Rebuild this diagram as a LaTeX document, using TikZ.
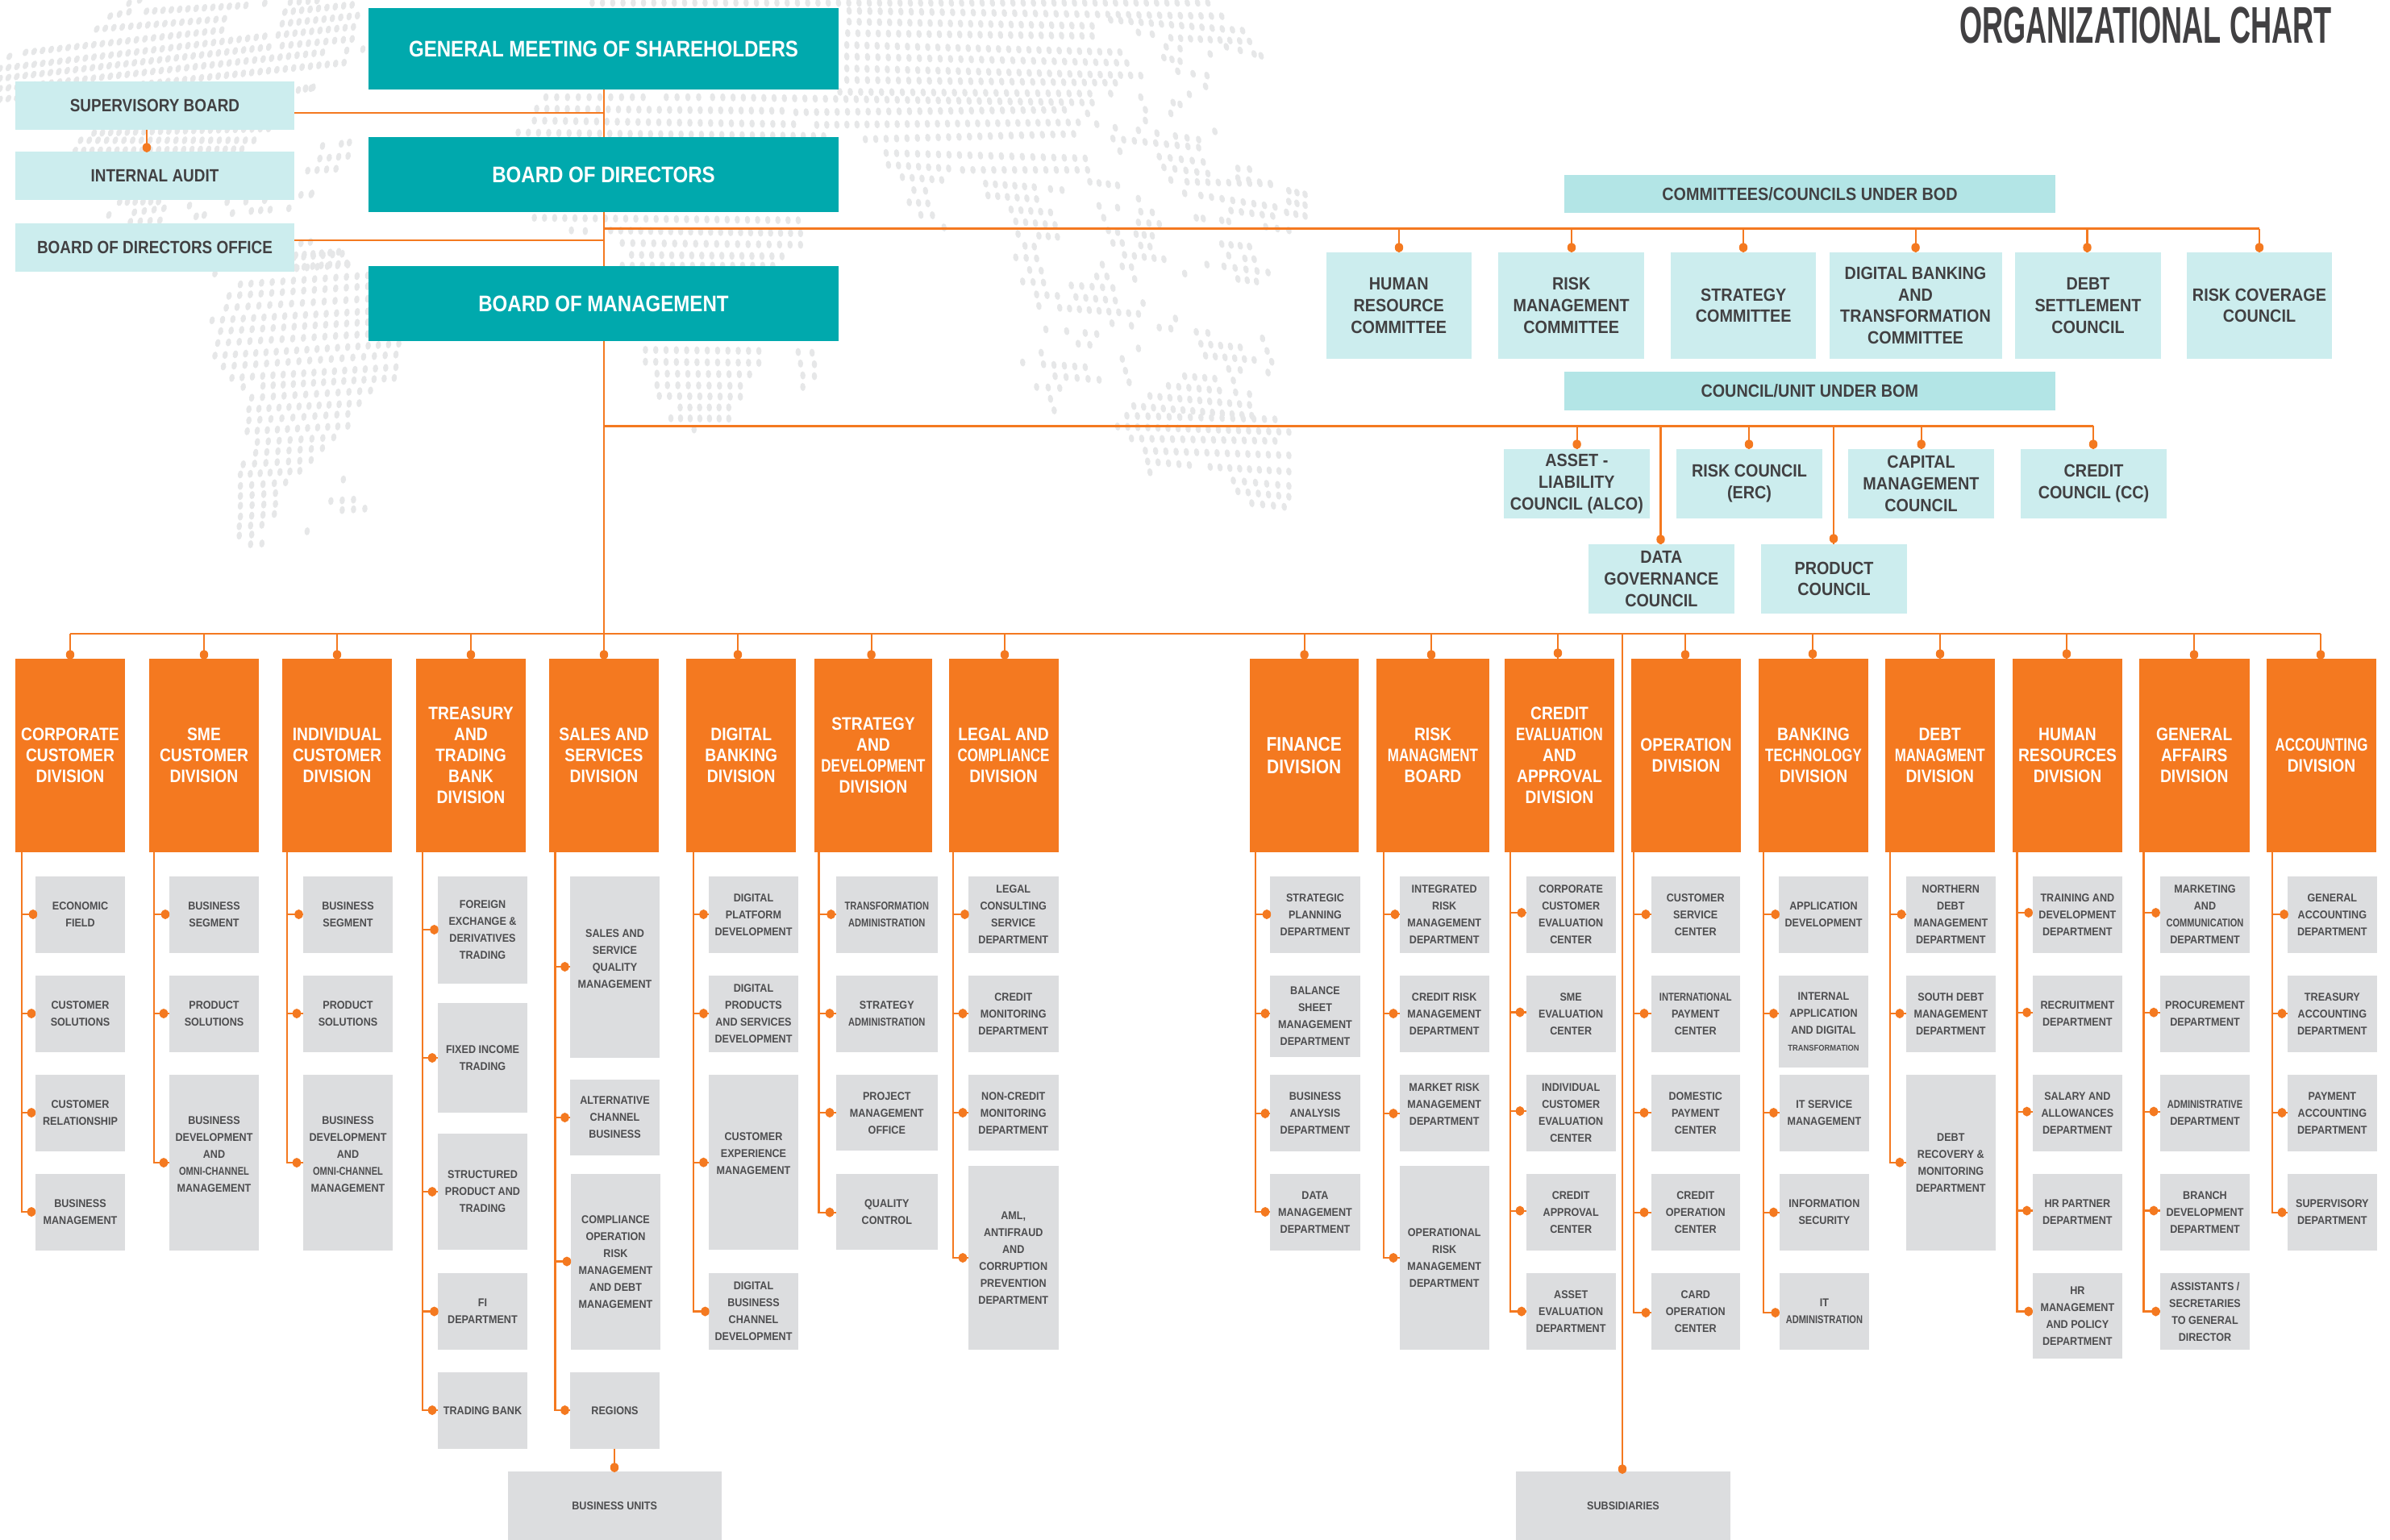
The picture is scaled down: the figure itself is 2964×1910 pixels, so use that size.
\documentclass[tikz,border=0pt]{standalone}
\usepackage{fontspec}
\usepackage{graphicx}
\newfontfamily\rb[FakeStretch=0.9]{Liberation Sans}
\newfontfamily\rc[FakeStretch=0.86]{Liberation Sans}
\newfontfamily\rbt[FakeStretch=0.565]{Liberation Sans}
\definecolor{orng}{HTML}{F47920}
\definecolor{teal1}{HTML}{00A9AD}
\definecolor{ltblue}{HTML}{CCEDEE}
\definecolor{hdrblue}{HTML}{B3E5E6}
\definecolor{kidgray}{HTML}{DCDDDF}
\definecolor{ink}{HTML}{414042}
\definecolor{kidink}{HTML}{4D4D4F}
\definecolor{mapgray}{HTML}{E6E7E8}
\tikzset{
 anybox/.style={inner sep=0pt,outer sep=0pt,align=center,draw=none},
 headbox/.style={anybox,fill=teal1,text=white,font=\fontsize{14}{17}\selectfont\rc\bfseries},
 sidebox/.style={anybox,fill=ltblue,text=ink,font=\fontsize{11}{13.4}\selectfont\rb\bfseries},
 leftbox/.style={anybox,fill=ltblue,text=ink,font=\fontsize{11}{13.4}\selectfont\rc\bfseries},
 hdrbox/.style={anybox,fill=hdrblue,text=ink,font=\fontsize{11}{13.4}\selectfont\rb\bfseries},
 divbox/.style={anybox,fill=orng,text=white,font=\fontsize{11.2}{13}\selectfont\rc\bfseries},
 bigdiv/.style={anybox,fill=orng,text=white,font=\fontsize{12.2}{14}\selectfont\rc\bfseries},
 kid/.style={anybox,fill=kidgray,text=kidink,font=\fontsize{7}{10.5}\selectfont\rb\bfseries},
 wire/.style={draw=orng,line width=1.1pt},
 bus/.style={draw=orng,line width=1.25pt},
 pin/.style={fill=orng},
 mapdot/.style={fill=mapgray},
}
\newcommand{\bx}[7]{\node[#1,minimum width={(#5-#3)*0.5pt},minimum height={(#6-#4)*0.5pt}] (#2) at ({(#3+#5)/2},{(#4+#6)/2}) {#7};}
\newcommand{\kidb}[6]{\bx{kid}{#1}{#2}{#4}{#3}{#5}{#6}}
\newcommand{\nr}[1]{\scalebox{0.88}[1]{#1}}
\newcommand{\pinat}[1]{\fill[pin] (#1) ellipse [x radius=2.6pt,y radius=3pt];}
% parent, stem x, child, dot x, dot y
\newcommand{\br}[5]{\coordinate (sx) at (#2,0);\coordinate (dt) at (#4,#5);
 \draw[wire] (#1.south -| sx) |- (#3.west |- dt);\pinat{dt}}
% bus coordinate, node, dot x, dot y
\newcommand{\drp}[4]{\coordinate (dt) at (#3,#4);
 \draw[wire] (dt |- #1) -- (#2.north -| dt);\pinat{dt}}
% fx fy ox gap list
\newcommand{\runs}[5]{\foreach \a/\b/\c/\d in {#5}{%
 \pgfmathsetmacro\xa{#3+\a/#1}\pgfmathsetmacro\xb{#3+\c/#1}%
 \pgfmathsetmacro\ya{\b/#2}\pgfmathsetmacro\yb{\d/#2}%
 \pgfmathtruncatemacro\n{round(abs(\xb-\xa)/#4)}%
 \pgfmathsetmacro\dn{max(\n,1)}%
 \foreach \i in {0,...,\n}{%
  \pgfmathsetmacro\fr{\i/\dn}%
  \pgfmathsetmacro\px{\xa+(\xb-\xa)*\fr}%
  \pgfmathsetmacro\py{\ya+(\yb-\ya)*\fr}%
  \pgfmathsetmacro\rt{(\px<750 ? (\px-750)/25 : (\px-750)/40)*(1-\py/1100)}%
  \fill[mapdot] (\px,\py) ellipse [x radius=1.65pt,y radius=2.5pt,rotate=\rt];
 }}}
\begin{document}
\begin{tikzpicture}[x=0.5pt,y=-0.5pt]
\useasboundingbox (0,0) rectangle (2964,1910);
\fill[white] (0,0) rectangle (2964,1910);
% world map, dotted
\runs{3}{3}{0}{10.5}{545/42/915/20,410/60/480/44,480/12/520/0,985/12/995/10,1080/8/1180/2,360/108/835/70,95/195/825/112,35/210/50/205,0/255/985/135,0/292/1000/175,0/330/1200/195,0/370/1280/233,1060/45/1310/18,1050/88/1330/58,1035/130/1315/100,1050/170/1310/145,1290/188/1290/188,1350/183/1350/183,1110/335/1165/325,350/495/1000/478,300/522/945/522,280/560/900/555,445/752/590/750,705/765/705/765,845/752/845/752,915/750/915/750,985/745/985/745,1120/725/1160/720,500/790/610/775,405/800/405/800,730/805/760/800,865/793/865/793,935/785/1005/780,1075/775/1075/775,485/825/595/820,1145/635/1250/628,1190/590/1295/580,1200/543/1200/543,1270/535/1300/530,1120/905/1155/900,1100/950/1260/937,1100/995/1290/980}
\runs{1.4255}{2.24}{0}{13}{380/760/380/760,425/790/650/765,405/822/650/795,400/855/650/830,375/890/650/865,390/920/650/895,385/953/650/928,380/988/705/955,395/1018/700/985,410/1050/700/1020,430/1075/430/1075,465/1072/697/1050,445/1105/655/1085,440/1137/635/1120,440/1168/615/1150,437/1198/615/1183,455/1228/590/1215,452/1258/570/1245,430/1290/550/1278,425/1318/530/1308,425/1350/505/1340,425/1378/487/1370,425/1405/487/1400,425/1435/485/1428,423/1462/463/1458,423/1488/445/1485,443/1512/463/1510,607/1332/607/1332,585/1392/625/1388,605/1417/645/1413,543/1476/543/1476,520/715/605/705,525/745/615/735,540/245/550/245,550/540/550/540}
\runs{1.742}{2.24}{700}{12.7}{60/8/1390/8,615/30/1420/45,615/60/1140/72,1180/55/1465/85,612/92/1140/100,1310/105/1480/115,1240/90/1240/90,1270/95/1270/95,610/125/1200/145,1300/130/1330/135,1395/150/1395/150,1430/130/1430/130,1460/140/1460/140,1490/150/1505/155,610/157/1215/175,1295/160/1330/170,610/190/1245/210,1325/198/1358/205,1388/210/1388/210,610/222/1190/230,1385/240/1385/240,595/255/1135/260,1180/260/1180/260,1245/270/1245/270,1350/262/1350/262,-40/270/170/270,220/270/290/270,320/270/1140/285,1315/285/1330/290,1255/305/1255/305,-60/302/470/308,500/312/1080/305,1310/315/1310/315,1130/315/1130/315,-65/335/495/345,545/347/1110/340,1150/345/1150/345,1255/335/1255/335,-100/368/560/378,650/387/1100/372,1190/355/1190/355,1240/362/1240/362,1280/370/1280/370,1320/378/1370/388,1405/365/1405/365,695/425/1125/440,700/458/830/468,860/472/1130/472,730/492/815/500,910/510/1015/520,1050/525/1075/528,1135/505/1195/515,755/528/780/530,915/543/1020/553,745/562/785/565,965/582/1050/590,770/597/795/598,820/632/820/632,1185/385/1370/410,1285/435/1380/450,1295/465/1390/482,1200/420/1200/420,1310/500/1310/500,1345/505/1525/510,1455/468/1480/470,1455/495/1525/512,1375/543/1535/575,1340/537/1340/537,1240/552/1240/552,1155/572/1155/572,1195/577/1195/577,1245/588/1270/590,1165/605/1165/605,1240/618/1285/622,1365/605/1380/607,1420/612/1435/615,1440/585/1530/600,1515/630/1565/640,975/615/1060/625,980/650/980/650,1025/655/1065/658,1175/640/1195/645,1235/650/1270/655,995/683/1015/685,1185/675/1205/675,1245/682/1265/685,1210/708/1295/720,975/715/1020/718,1420/678/1480/685,1435/710/1435/710,1470/718/1490/720,1005/750/1030/752,1425/740/1520/757,1455/775/1495/782,1162/735/1162/735,1205/740/1225/742,1388/735/1388/735,1340/760/1340/760,990/782/1035/785,1150/768/1172/768,1232/775/1232/775,1095/793/1185/800,1020/818/1065/822,1105/825/1190/835,1025/850/1025/850,1070/855/1240/872,1250/842/1250/842,1320/885/1320/885,1183/898/1183/898,1225/905/1225/905,1285/910/1310/913,1040/915/1040/915,1085/920/1085/920,1125/925/1150/928,1365/922/1390/925,1110/955/1135/958,1375/955/1460/965,1508/940/1508/940,1240/968/1240/968,1030/980/1030/980,1518/975/1518/975,1385/988/1490/1000,1205/997/1205/997,990/1007/990/1007,1035/1012/1125/1020,1528/1005/1528/1005,1212/1030/1212/1030,1435/1025/1460/1028,1520/1035/1520/1035,1060/1045/1155/1055,1340/1045/1405/1052,1445/1057/1445/1057,1220/1062/1220/1062,1020/1075/1070/1078,1305/1072/1415/1085,1450/1090/1480/1095,1050/1108/1050/1108,1265/1100/1480/1125,1058/1140/1058/1140,1230/1128/1485/1155,1215/1155/1535/1165,1195/1185/1565/1200,1225/1218/1535/1225,1255/1252/1565/1265,1260/1282/1350/1292,1395/1297/1565/1310,1265/1312/1265/1312,1445/1335/1565/1350,1455/1365/1565/1380,1485/1398/1555/1408,-65/605/505/612,100/640/510/648,15/640/45/642,125/675/510/680,145/708/470/712,125/738/450/738,175/972/420/975,175/1005/420/1008,200/1038/400/1040,200/1070/380/1072,205/1100/380/1102,250/1132/355/1132,230/1162/355/1163,280/1193/280/1193,505/978/535/980,510/1010/540/1012,515/1043/540/1045,515/1075/515/1075,1565/530/1600/540,1565/560/1600/570,1560/590/1600/600}
% title
\node[anchor=east,text=ink,font=\fontsize{32}{34}\selectfont\rbt\bfseries,inner sep=0pt] (title) at (2892,31) {ORGANIZATIONAL CHART};
% top boxes
\bx{headbox}{GM}{457}{10}{1040}{111}{GENERAL MEETING OF SHAREHOLDERS}
\bx{headbox}{BoD}{457}{170}{1040}{263}{BOARD OF DIRECTORS}
\bx{headbox}{BoM}{457}{330}{1040}{423}{BOARD OF MANAGEMENT}
\bx{leftbox}{SB}{19}{101}{365}{161}{SUPERVISORY BOARD}
\bx{leftbox}{IA}{19}{188}{365}{248}{INTERNAL AUDIT}
\bx{leftbox}{BDO}{19}{277}{365}{337}{BOARD OF DIRECTORS OFFICE}
\coordinate (spA) at (749,140);
\coordinate (spB) at (749,298);
\coordinate (busC) at (749,283.5);
\coordinate (busU) at (749,528.3);
\coordinate (busD) at (749,786);
\coordinate (endC) at (2802,283.5);
\coordinate (endU) at (2596,528.3);
\coordinate (busDl) at (87,786);
\coordinate (busDr) at (2878,786);
\draw[wire] (GM.south -| spA) -- (BoD.north -| spA);
\draw[wire] (BoD.south -| spA) -- (BoM.north -| spA);
\draw[wire] (BoM.south -| spA) -- (busD);
\draw[bus] (SB.east |- spA) -- (spA);
\draw[bus] (BDO.east |- spB) -- (spB);
\coordinate (dtIA) at (182,183);
\draw[wire] (SB.south -| dtIA) -- (IA.north -| dtIA);\pinat{dtIA}
% committees
\bx{hdrbox}{HC}{1940}{217}{2549}{264}{COMMITTEES/COUNCILS UNDER BOD}
\bx{sidebox}{C1}{1644.5}{313}{1825}{444.7}{HUMAN\\RESOURCE\\COMMITTEE}
\bx{sidebox}{C2}{1858.4}{313}{2039}{444.7}{RISK\\MANAGEMENT\\COMMITTEE}
\bx{sidebox}{C3}{2072.4}{313}{2252}{444.7}{STRATEGY\\COMMITTEE}
\bx{sidebox}{C4}{2268.5}{313}{2482.5}{444.7}{DIGITAL BANKING\\AND\\TRANSFORMATION\\COMMITTEE}
\bx{sidebox}{C5}{2499}{313}{2680}{444.7}{DEBT\\SETTLEMENT\\COUNCIL}
\bx{sidebox}{C6}{2712}{313}{2892}{444.7}{RISK COVERAGE\\COUNCIL}
\draw[bus] (busC) -- (endC);
\drp{busC}{C1}{1735}{307}\drp{busC}{C2}{1949}{307}\drp{busC}{C3}{2162}{307}\drp{busC}{C4}{2375.6}{307}\drp{busC}{C5}{2588.5}{307}\drp{busC}{C6}{2802}{307}
% councils
\bx{hdrbox}{HU}{1939.5}{461}{2549}{509}{COUNCIL/UNIT UNDER BOM}
\bx{sidebox}{U1}{1865}{557}{2045.7}{642.7}{ASSET -\\LIABILITY\\COUNCIL (ALCO)}
\bx{sidebox}{U2}{2079}{557}{2260}{642.7}{RISK COUNCIL\\(ERC)}
\bx{sidebox}{U3}{2292}{557}{2473}{642.7}{CAPITAL\\MANAGEMENT\\COUNCIL}
\bx{sidebox}{U4}{2506}{557}{2687}{642.7}{CREDIT\\COUNCIL (CC)}
\bx{sidebox}{U5}{1970}{675}{2150.7}{761}{DATA\\GOVERNANCE\\COUNCIL}
\bx{sidebox}{U6}{2184}{675}{2365}{761}{PRODUCT\\COUNCIL}
\draw[bus] (busU) -- (endU);
\drp{busU}{U1}{1955.6}{551}\drp{busU}{U2}{2169}{551}\drp{busU}{U3}{2382.7}{551}\drp{busU}{U4}{2596}{551}
\drp{busU}{U5}{2059.5}{669}\drp{busU}{U6}{2274}{668}
% divisions
\draw[bus] (busDl) -- (busDr);
\bx{divbox}{D1}{19}{817}{155}{1056.5}{CORPORATE\\CUSTOMER\\DIVISION}
\bx{divbox}{D2}{185}{817}{321}{1056.5}{SME\\CUSTOMER\\DIVISION}
\bx{divbox}{D3}{350}{817}{486}{1056.5}{INDIVIDUAL\\CUSTOMER\\DIVISION}
\bx{divbox}{D4}{516}{817}{652}{1056.5}{TREASURY\\AND\\TRADING\\BANK\\DIVISION}
\bx{divbox}{D5}{681}{817}{817}{1056.5}{SALES AND\\SERVICES\\DIVISION}
\bx{divbox}{D6}{851}{817}{987.4}{1056.5}{DIGITAL\\BANKING\\DIVISION}
\bx{divbox}{D7}{1010}{817}{1156}{1056.5}{STRATEGY\\AND\\\nr{DEVELOPMENT}\\DIVISION}
\bx{divbox}{D8}{1176.6}{817}{1312.5}{1056.5}{LEGAL AND\\\nr{COMPLIANCE}\\DIVISION}
\bx{bigdiv}{D9}{1549.5}{817}{1685}{1056.5}{FINANCE\\DIVISION}
\bx{divbox}{D10}{1707}{817}{1847}{1056.5}{RISK\\\nr{MANAGMENT}\\BOARD}
\bx{divbox}{D11}{1866}{817}{2002}{1056.5}{CREDIT\\\nr{EVALUATION}\\AND\\APPROVAL\\DIVISION}
\bx{divbox}{D12}{2023}{817}{2159}{1056.5}{OPERATION\\DIVISION}
\bx{divbox}{D13}{2181}{817}{2317}{1056.5}{BANKING\\\nr{TECHNOLOGY}\\DIVISION}
\bx{divbox}{D14}{2337.5}{817}{2474}{1056.5}{DEBT\\\nr{MANAGMENT}\\DIVISION}
\bx{divbox}{D15}{2496}{817}{2632}{1056.5}{HUMAN\\RESOURCES\\DIVISION}
\bx{divbox}{D16}{2653}{817}{2789.5}{1056.5}{GENERAL\\AFFAIRS\\DIVISION}
\bx{divbox}{D17}{2811}{817}{2947}{1056.5}{\nr{ACCOUNTING}\\DIVISION}
\drp{busD}{D1}{87}{812}\drp{busD}{D2}{253}{812}\drp{busD}{D3}{418}{812}\drp{busD}{D4}{584}{812}\drp{busD}{D5}{749}{812}\drp{busD}{D6}{915}{812}\drp{busD}{D7}{1080.6}{812}\drp{busD}{D8}{1246}{812}\drp{busD}{D9}{1617.6}{812}\drp{busD}{D10}{1775}{812}\drp{busD}{D11}{1932}{810}\drp{busD}{D12}{2090}{812}\drp{busD}{D13}{2248}{811}\drp{busD}{D14}{2406}{811}\drp{busD}{D15}{2563}{811}\drp{busD}{D16}{2721}{812}\drp{busD}{D17}{2878}{812}
% column 1
\kidb{k11}{44}{155}{1087}{1182}{ECONOMIC\\FIELD}
\kidb{k12}{44}{155}{1210}{1305}{CUSTOMER\\SOLUTIONS}
\kidb{k13}{44}{155}{1333}{1428}{CUSTOMER\\RELATIONSHIP}
\kidb{k14}{44}{155}{1456}{1551}{BUSINESS\\MANAGEMENT}
\br{D1}{27}{k14}{39}{1503}\br{D1}{27}{k13}{39}{1380}\br{D1}{27}{k12}{39}{1257}\br{D1}{27}{k11}{41}{1134}
% column 2
\kidb{k21}{210}{321}{1087}{1182}{BUSINESS\\SEGMENT}
\kidb{k22}{210}{321}{1210}{1305}{PRODUCT\\SOLUTIONS}
\kidb{k23}{210}{321}{1333}{1551}{BUSINESS\\DEVELOPMENT\\AND\\\nr{OMNI-CHANNEL}\\MANAGEMENT\\~}
\br{D2}{190.6}{k23}{203}{1442}\br{D2}{190.6}{k22}{203}{1257}\br{D2}{190.6}{k21}{205}{1134}
% column 3
\kidb{k31}{376}{487}{1087}{1182}{BUSINESS\\SEGMENT}
\kidb{k32}{376}{487}{1210}{1305}{PRODUCT\\SOLUTIONS}
\kidb{k33}{376}{487}{1333}{1551}{BUSINESS\\DEVELOPMENT\\AND\\\nr{OMNI-CHANNEL}\\MANAGEMENT\\~}
\br{D3}{356}{k33}{368}{1442}\br{D3}{356}{k32}{368}{1257}\br{D3}{356}{k31}{370.5}{1134}
% column 4
\kidb{k41}{543}{654}{1087}{1219.5}{FOREIGN\\EXCHANGE \&\\DERIVATIVES\\TRADING}
\kidb{k42}{543}{654}{1244}{1380}{FIXED INCOME\\TRADING}
\kidb{k43}{543}{654}{1406}{1550}{STRUCTURED\\PRODUCT AND\\TRADING}
\kidb{k44}{543}{654}{1579}{1674}{FI\\DEPARTMENT}
\kidb{k45}{543}{654}{1702}{1796.5}{TRADING BANK}
\br{D4}{524}{k45}{536}{1749}\br{D4}{524}{k44}{538.5}{1626.5}\br{D4}{524}{k43}{536}{1478}\br{D4}{524}{k42}{536}{1312}\br{D4}{524}{k41}{538.5}{1153}
% column 5
\kidb{k51}{707}{818}{1087}{1311.7}{SALES AND\\SERVICE\\QUALITY\\MANAGEMENT\\~}
\kidb{k52}{707}{818}{1339}{1433.4}{ALTERNATIVE\\CHANNEL\\BUSINESS}
\kidb{k53}{708}{819}{1456}{1674}{COMPLIANCE\\OPERATION\\RISK\\MANAGEMENT\\AND DEBT\\MANAGEMENT}
\kidb{k54}{707}{818}{1702}{1796.5}{REGIONS}
\br{D5}{688.5}{k54}{700.5}{1749}\br{D5}{688.5}{k53}{703}{1564.5}\br{D5}{688.5}{k52}{700.5}{1386}\br{D5}{688.5}{k51}{700.5}{1199}
\kidb{BU}{629.5}{895}{1825}{1910}{BUSINESS UNITS}
\coordinate (dtBU) at (762,1820);
\draw[wire] (k54.south -| dtBU) -- (BU.north -| dtBU);\pinat{dtBU}
% column 6
\kidb{k61}{879}{990}{1087}{1181.6}{DIGITAL\\PLATFORM\\DEVELOPMENT}
\kidb{k62}{879}{990}{1210}{1304.5}{DIGITAL\\PRODUCTS\\AND SERVICES\\DEVELOPMENT}
\kidb{k63}{879}{990}{1333}{1550}{CUSTOMER\\EXPERIENCE\\MANAGEMENT\\~}
\kidb{k64}{879}{990}{1579}{1674}{DIGITAL\\BUSINESS\\CHANNEL\\DEVELOPMENT}
\br{D6}{860}{k64}{874.5}{1626.5}\br{D6}{860}{k63}{872.5}{1441.7}\br{D6}{860}{k62}{872.5}{1257}\br{D6}{860}{k61}{872.5}{1134}
% column 7
\kidb{k71}{1036.6}{1163}{1087}{1181.6}{\nr{TRANSFORMATION}\\\nr{ADMINISTRATION}}
\kidb{k72}{1036.6}{1163}{1210}{1304.5}{STRATEGY\\\nr{ADMINISTRATION}}
\kidb{k73}{1036.6}{1163}{1333}{1427.4}{PROJECT\\MANAGEMENT\\OFFICE}
\kidb{k74}{1036.6}{1163}{1456}{1550}{QUALITY\\CONTROL}
\br{D7}{1015.5}{k74}{1029}{1503.6}\br{D7}{1015.5}{k73}{1029}{1380}\br{D7}{1015.5}{k72}{1029}{1257}\br{D7}{1015.5}{k71}{1030.6}{1134}
% column 8
\kidb{k81}{1201}{1312.5}{1087}{1181.6}{LEGAL\\CONSULTING\\SERVICE\\DEPARTMENT}
\kidb{k82}{1201}{1312.5}{1210}{1304.5}{CREDIT\\MONITORING\\DEPARTMENT}
\kidb{k83}{1201}{1312.5}{1333}{1427.4}{NON-CREDIT\\MONITORING\\DEPARTMENT}
\kidb{k84}{1201}{1312.5}{1446}{1674}{AML,\\ANTIFRAUD\\AND\\CORRUPTION\\PREVENTION\\DEPARTMENT}
\br{D8}{1182}{k84}{1194}{1560}\br{D8}{1182}{k83}{1194}{1380}\br{D8}{1182}{k82}{1194}{1257}\br{D8}{1182}{k81}{1196.5}{1134}
% column 9 finance
\kidb{k91}{1575}{1687}{1087}{1181.6}{STRATEGIC\\PLANNING\\DEPARTMENT}
\kidb{k92}{1575}{1687}{1210}{1311}{BALANCE\\SHEET\\MANAGEMENT\\DEPARTMENT}
\kidb{k93}{1575}{1687}{1333}{1427.8}{BUSINESS\\ANALYSIS\\DEPARTMENT}
\kidb{k94}{1575}{1687}{1456}{1550.6}{DATA\\MANAGEMENT\\DEPARTMENT}
\br{D9}{1556.7}{k94}{1569}{1503}\br{D9}{1556.7}{k93}{1569}{1381}\br{D9}{1556.7}{k92}{1569}{1257}\br{D9}{1556.7}{k91}{1571}{1134}
% column 10 risk
\kidb{k101}{1735.7}{1846.7}{1087}{1181.6}{INTEGRATED\\RISK\\MANAGEMENT\\DEPARTMENT}
\kidb{k102}{1735.7}{1846.7}{1210}{1304.5}{CREDIT RISK\\MANAGEMENT\\DEPARTMENT}
\kidb{k103}{1735.7}{1846.7}{1333}{1427.8}{MARKET RISK\\MANAGEMENT\\DEPARTMENT\\~}
\kidb{k104}{1735.7}{1846.7}{1446}{1673.5}{OPERATIONAL\\RISK\\MANAGEMENT\\DEPARTMENT}
\br{D10}{1716}{k104}{1728}{1560}\br{D10}{1716}{k103}{1728}{1381}\br{D10}{1716}{k102}{1728}{1257}\br{D10}{1716}{k101}{1730}{1134}
% column 11 credit
\kidb{k111}{1892.7}{2003.7}{1087}{1181.6}{CORPORATE\\CUSTOMER\\EVALUATION\\CENTER}
\kidb{k112}{1892.7}{2003.7}{1210}{1304.5}{SME\\EVALUATION\\CENTER}
\kidb{k113}{1892.7}{2003.7}{1333}{1427.8}{INDIVIDUAL\\CUSTOMER\\EVALUATION\\CENTER}
\kidb{k114}{1892.7}{2003.7}{1456}{1550.6}{CREDIT\\APPROVAL\\CENTER}
\kidb{k115}{1892.7}{2003.7}{1579}{1674}{ASSET\\EVALUATION\\DEPARTMENT}
\br{D11}{1872.7}{k115}{1887}{1626.5}\br{D11}{1872.7}{k114}{1885}{1501.6}\br{D11}{1872.7}{k113}{1885}{1378}\br{D11}{1872.7}{k112}{1885}{1255.5}\br{D11}{1872.7}{k111}{1887}{1132}
% column 12 operation
\kidb{k121}{2047.5}{2158}{1087}{1181.6}{CUSTOMER\\SERVICE\\CENTER}
\kidb{k122}{2047.5}{2158}{1210}{1304.5}{\nr{INTERNATIONAL}\\PAYMENT\\CENTER}
\kidb{k123}{2047.5}{2158}{1333}{1427.8}{DOMESTIC\\PAYMENT\\CENTER}
\kidb{k124}{2047.5}{2158}{1456}{1550.6}{CREDIT\\OPERATION\\CENTER}
\kidb{k125}{2047.5}{2158}{1579}{1674}{CARD\\OPERATION\\CENTER}
\br{D12}{2026.3}{k125}{2041}{1628}\br{D12}{2026.3}{k124}{2039}{1503.6}\br{D12}{2026.3}{k123}{2039}{1380}\br{D12}{2026.3}{k122}{2039}{1257}\br{D12}{2026.3}{k121}{2041}{1134}
% column 13 banking technology
\kidb{k131}{2206}{2317}{1087}{1181.6}{APPLICATION\\DEVELOPMENT}
\kidb{k132}{2206}{2317}{1210}{1324}{INTERNAL\\APPLICATION\\AND DIGITAL\\{\fontsize{5.2}{10.5}\selectfont TRANSFORMATION}}
\kidb{k133}{2206.7}{2318}{1333}{1427.8}{IT SERVICE\\MANAGEMENT}
\kidb{k134}{2206.7}{2318}{1456}{1550.6}{INFORMATION\\SECURITY}
\kidb{k135}{2206.7}{2318}{1579}{1674}{IT\\\nr{ADMINISTRATION}}
\br{D13}{2186.8}{k135}{2201.7}{1628}\br{D13}{2186.8}{k134}{2199.5}{1503.6}\br{D13}{2186.8}{k133}{2199.5}{1380}\br{D13}{2186.8}{k132}{2199.5}{1257}\br{D13}{2186.8}{k131}{2201.7}{1134}
% column 14 debt
\kidb{k141}{2363.7}{2475}{1087}{1181.6}{NORTHERN\\DEBT\\MANAGEMENT\\DEPARTMENT}
\kidb{k142}{2363.7}{2475}{1210}{1304.5}{SOUTH DEBT\\MANAGEMENT\\DEPARTMENT}
\kidb{k143}{2363.7}{2475}{1333}{1550.6}{DEBT\\RECOVERY \&\\MONITORING\\DEPARTMENT}
\br{D14}{2343.8}{k143}{2356}{1441.7}\br{D14}{2343.8}{k142}{2356}{1257}\br{D14}{2343.8}{k141}{2358}{1134}
% column 15 hr
\kidb{k151}{2520.7}{2632}{1087}{1181.6}{TRAINING AND\\DEVELOPMENT\\DEPARTMENT}
\kidb{k152}{2520.7}{2632}{1210}{1304.5}{RECRUITMENT\\DEPARTMENT}
\kidb{k153}{2520.7}{2632}{1333}{1427.8}{SALARY AND\\ALLOWANCES\\DEPARTMENT}
\kidb{k154}{2520.7}{2632}{1456}{1550.6}{HR PARTNER\\DEPARTMENT}
\kidb{k155}{2520.7}{2632}{1579}{1685}{HR\\MANAGEMENT\\AND POLICY\\DEPARTMENT}
\br{D15}{2501.5}{k155}{2515.7}{1626.5}\br{D15}{2501.5}{k154}{2513.6}{1501.5}\br{D15}{2501.5}{k153}{2513.6}{1378.6}\br{D15}{2501.5}{k152}{2513.6}{1255.7}\br{D15}{2501.5}{k151}{2515.7}{1132}
% column 16 general affairs
\kidb{k161}{2679}{2790}{1087}{1181.6}{MARKETING\\AND\\\nr{COMMUNICATION}\\DEPARTMENT}
\kidb{k162}{2679}{2790}{1210}{1304.5}{PROCUREMENT\\DEPARTMENT}
\kidb{k163}{2679}{2790}{1333}{1427.8}{\nr{ADMINISTRATIVE}\\DEPARTMENT}
\kidb{k164}{2679}{2790}{1456}{1550.6}{BRANCH\\DEVELOPMENT\\DEPARTMENT}
\kidb{k165}{2679}{2790}{1579}{1674}{ASSISTANTS /\\SECRETARIES\\TO GENERAL\\DIRECTOR}
\br{D16}{2658.5}{k165}{2673.5}{1626.5}\br{D16}{2658.5}{k164}{2671}{1501.5}\br{D16}{2658.5}{k163}{2671}{1378.6}\br{D16}{2658.5}{k162}{2671}{1255.7}\br{D16}{2658.5}{k161}{2673.5}{1132}
% column 17 accounting
\kidb{k171}{2837}{2947.7}{1087}{1181.6}{GENERAL\\ACCOUNTING\\DEPARTMENT}
\kidb{k172}{2837}{2947.7}{1210}{1304.5}{TREASURY\\ACCOUNTING\\DEPARTMENT}
\kidb{k173}{2837}{2947.7}{1333}{1427.8}{PAYMENT\\ACCOUNTING\\DEPARTMENT}
\kidb{k174}{2837}{2947.7}{1456}{1550.6}{SUPERVISORY\\DEPARTMENT}
\br{D17}{2817.7}{k174}{2830}{1503.6}\br{D17}{2817.7}{k173}{2830}{1380}\br{D17}{2817.7}{k172}{2830}{1257}\br{D17}{2817.7}{k171}{2832.6}{1134}
% subsidiaries
\kidb{SUB}{1880}{2146}{1825}{1910}{SUBSIDIARIES}
\coordinate (dtS) at (2012,1822);
\draw[wire] (busD -| dtS) -- (SUB.north -| dtS);\pinat{dtS}
\end{tikzpicture}
\end{document}
